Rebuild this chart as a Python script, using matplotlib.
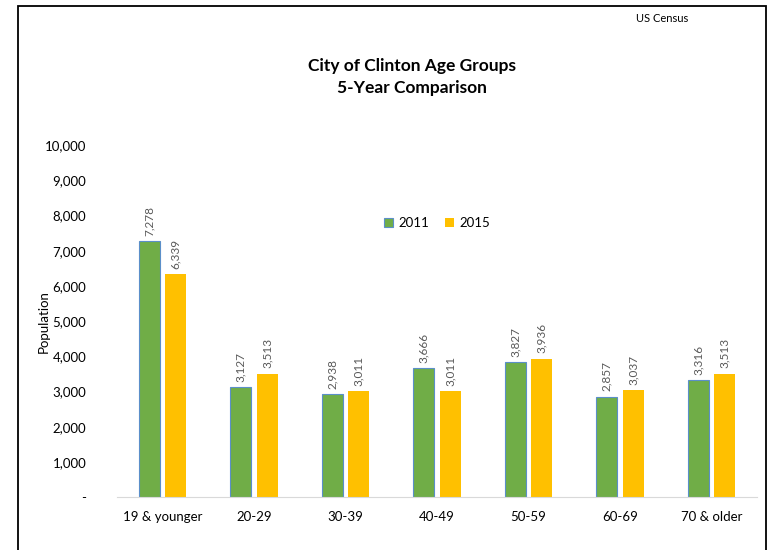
import matplotlib.pyplot as plt
import numpy as np
from matplotlib.patches import Rectangle

plt.rcParams['font.family'] = ['Lato', 'DejaVu Sans']

groups = ['19 & younger', '20-29', '30-39', '40-49', '50-59', '60-69', '70 & older']
pop_2011 = [7278, 3127, 2938, 3666, 3827, 2857, 3316]
pop_2015 = [6339, 3513, 3011, 3011, 3936, 3037, 3513]
yticks = [0, 1000, 2000, 3000, 4000, 5000, 6000, 7000, 8000, 9000, 10000]

fig = plt.figure(figsize=(7.68, 5.5), dpi=100)
ax = fig.add_axes([0.152, 0.096, 0.834, 0.64])

x = np.arange(len(groups))
w = 0.23
off = 0.145
b1 = ax.bar(x - off, pop_2011, w, color='#70AD47', edgecolor='#5B8FC9', linewidth=0.8, label='2011')
b2 = ax.bar(x + off, pop_2015, w, color='#FFC000', label='2015')

for bars, vals in ((b1, pop_2011), (b2, pop_2015)):
    for r, v in zip(bars, vals):
        ax.text(r.get_x() + r.get_width() / 2, v + 150, f'{v:,}', rotation=90,
                ha='center', va='bottom', fontsize=8.5, color='#595959')

ax.set_xlim(-0.5, len(groups) - 0.5)
ax.set_ylim(0, 10000)
ax.set_yticks(yticks)
ax.set_yticklabels(['-'] + [f'{t:,}' for t in yticks[1:]])
ax.set_xticks(x)
ax.set_xticklabels(groups)
ax.tick_params(length=0, labelsize=9.5, colors='#000000')
ax.tick_params(axis='y', pad=22)
ax.tick_params(axis='x', pad=10)
for s in ('top', 'right', 'left'):
    ax.spines[s].set_visible(False)
ax.spines['bottom'].set_color('#D9D9D9')

ax.set_ylabel('Population', fontsize=9.5)
ax.yaxis.set_label_coords(-0.105, 0.5)

ax.legend(loc='upper center', bbox_to_anchor=(0.5, 0.83), ncol=2, frameon=False,
          fontsize=9.5, handlelength=0.7, handleheight=0.7, columnspacing=1.2, handletextpad=0.4)

fig.text(0.537, 0.86, 'City of Clinton Age Groups\n5-Year Comparison', ha='center', va='center',
         fontsize=12.5, fontweight='bold', linespacing=1.4)
fig.text(0.862, 0.967, 'US Census', ha='center', va='center', fontsize=8)

fig.patches.append(Rectangle((18 / 768, -0.05), 748 / 768, 1.05 - 6 / 550, transform=fig.transFigure,
                             fill=False, edgecolor='black', linewidth=1.3))

fig.savefig('out.png', dpi=100)
